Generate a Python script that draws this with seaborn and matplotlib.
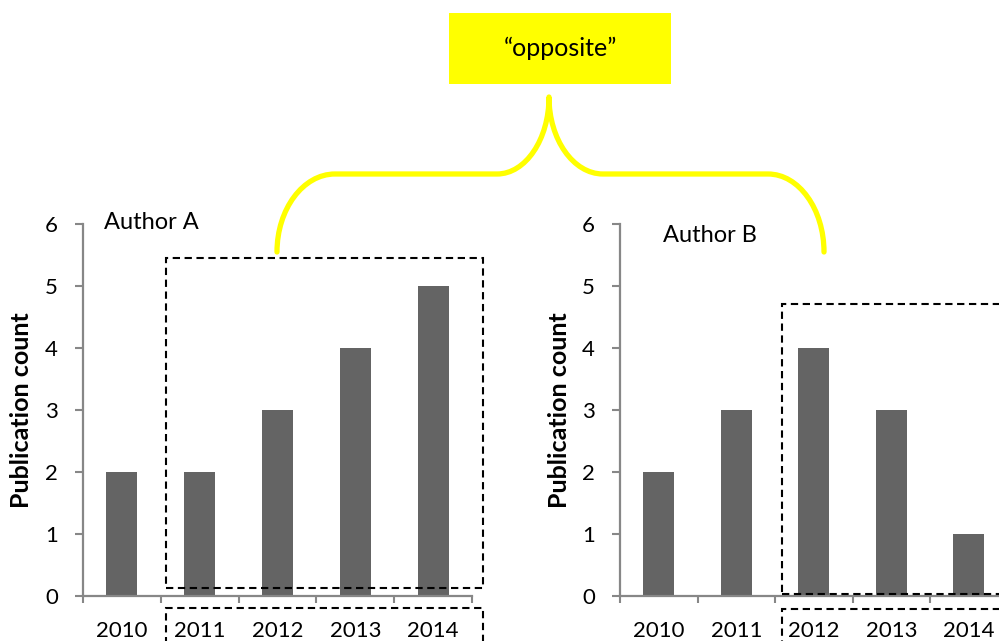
import matplotlib
matplotlib.use("Agg")
import matplotlib.pyplot as plt
import seaborn as sns
import pandas as pd
from matplotlib.patches import Rectangle, PathPatch
from matplotlib.path import Path

# ---- data ----
years = ["2010", "2011", "2012", "2013", "2014"]
author_a_counts = [2, 2, 3, 4, 5]
author_b_counts = [2, 3, 4, 3, 1]
y_ticks = [0, 1, 2, 3, 4, 5, 6]
panel_titles = ["Author A", "Author B"]
y_label = "Publication count"
callout_text = "\u201copposite\u201d"

sns.set_theme(style="white")
plt.rcParams["font.family"] = ["Lato", "DejaVu Sans"]

W, H = 999, 641
fig = plt.figure(figsize=(W / 100, H / 100), dpi=100)

def fx(x):
    return x / W

def fy(y):
    return 1 - y / H

BAR = "#646464"
AXC = "#878787"
FS = 16

def draw_panel(rect, counts, title, title_xy):
    ax = fig.add_axes(rect)
    df = pd.DataFrame({"year": years, "count": counts})
    sns.barplot(data=df, x="year", y="count", color=BAR, saturation=1,
                width=0.4, linewidth=0, ax=ax)
    ax.set_xlim(-0.5, len(years) - 0.5)
    ax.set_ylim(0, 6)
    sns.despine(ax=ax)
    for s in ("left", "bottom"):
        ax.spines[s].set_color(AXC)
        ax.spines[s].set_linewidth(1.6)
    # boundary ticks (major), labels at centers (minor)
    ax.set_xticks([i - 0.5 for i in range(len(years) + 1)])
    ax.set_xticklabels([])
    ax.set_xticks(range(len(years)), minor=True)
    ax.set_xticklabels(years, minor=True)
    ax.tick_params(axis="x", which="major", direction="out", length=5,
                   width=1.5, color=AXC, bottom=True)
    ax.tick_params(axis="x", which="minor", length=0, pad=18,
                   labelsize=FS, labelcolor="black", bottom=True)
    ax.set_yticks(y_ticks)
    ax.tick_params(axis="y", direction="out", length=6, width=1.5,
                   color=AXC, left=True, pad=12, labelsize=FS,
                   labelcolor="black")
    ax.set_xlabel("")
    ax.set_ylabel(y_label, fontsize=18, fontweight="bold", va="center",
                  color="black")
    ax.yaxis.set_label_coords(-0.157, 0.5)
    ax.grid(False)
    fig.text(fx(title_xy[0]), fy(title_xy[1]), title, fontsize=17,
             ha="left", va="center", color="black")
    return ax

axA = draw_panel([fx(83), fy(596), (472 - 83) / W, (596 - 224) / H],
                 author_a_counts, panel_titles[0], (104, 222))
axB = draw_panel([fx(620), fy(596), (1007.5 - 620) / W, (596 - 224) / H],
                 author_b_counts, panel_titles[1], (663, 235))

# ---- dashed boxes (figure pixel coords) ----
def dashed_box(x0, y0, x1, y1):
    r = Rectangle((fx(x0), fy(y1)), fx(x1) - fx(x0), fy(y0) - fy(y1),
                  transform=fig.transFigure, fill=False, edgecolor="black",
                  linewidth=1.5, linestyle=(0, (3.5, 2.2)), clip_on=False)
    fig.add_artist(r)

dashed_box(166, 258, 483, 588)
dashed_box(166, 608, 483, 660)
dashed_box(782, 304, 1010, 594)
dashed_box(782, 609, 1010, 660)

# ---- yellow callout ----
YEL = "#FFFF00"
fig.add_artist(Rectangle((fx(449), fy(84)), fx(671) - fx(449), fy(13) - fy(84),
                         transform=fig.transFigure, facecolor=YEL,
                         edgecolor="none"))
fig.text(fx(560), fy(48), callout_text, fontsize=18, ha="center",
         va="center", color="black")

k = 0.55
pts_px = [
    (277, 252),
    (277, 252 - k * 78), (335 - k * 58, 174), (335, 174),
    (497, 174),
    (497 + k * 52, 174), (549, 97 + k * 77), (549, 97),
    (549, 97 + k * 77), (603 - k * 54, 174), (603, 174),
    (768, 174),
    (768 + k * 56, 174), (824, 252 - k * 78), (824, 252),
]
codes = [Path.MOVETO,
         Path.CURVE4, Path.CURVE4, Path.CURVE4,
         Path.LINETO,
         Path.CURVE4, Path.CURVE4, Path.CURVE4,
         Path.CURVE4, Path.CURVE4, Path.CURVE4,
         Path.LINETO,
         Path.CURVE4, Path.CURVE4, Path.CURVE4]
verts = [(fx(x), fy(y)) for x, y in pts_px]
brace = PathPatch(Path(verts, codes), transform=fig.transFigure, fill=False,
                  edgecolor=YEL, linewidth=3.8, capstyle="round",
                  joinstyle="round")
fig.add_artist(brace)

fig.savefig("out.png", dpi=100)
